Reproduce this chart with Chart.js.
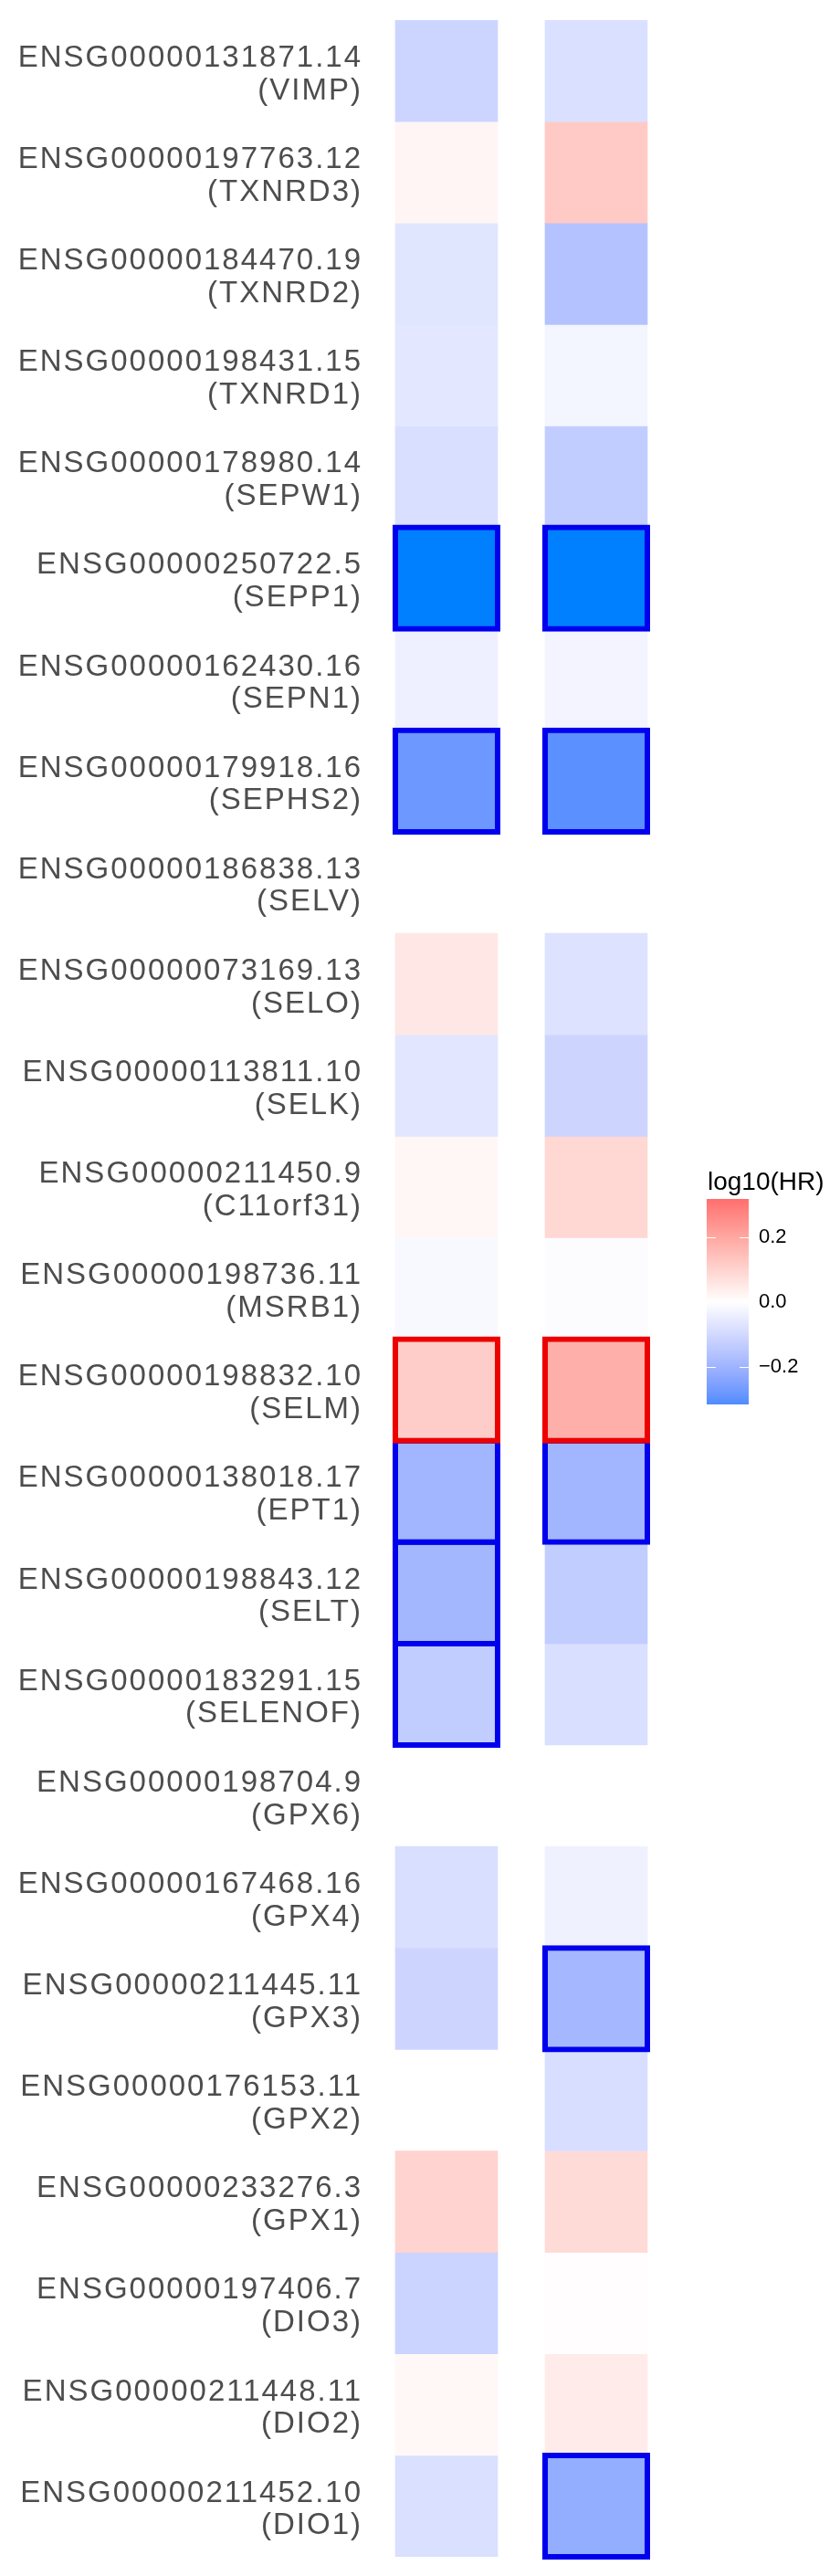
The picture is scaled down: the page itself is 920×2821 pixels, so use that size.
<!DOCTYPE html>
<html>
<head>
<meta charset="utf-8">
<script src="https://cdn.jsdelivr.net/npm/chart.js@4.4.0/dist/chart.umd.min.js"></script>
<style>
  html, body { margin: 0; padding: 0; background: #ffffff; }
  canvas { display: block; }
</style>
</head>
<body>
<canvas id="heatmap" width="920" height="2821"></canvas>
<script>
// ---------------- data (rows listed top to bottom as in the picture) ----------------
const geneIds = [
  'ENSG00000131871.14', 'ENSG00000197763.12', 'ENSG00000184470.19', 'ENSG00000198431.15',
  'ENSG00000178980.14', 'ENSG00000250722.5',  'ENSG00000162430.16', 'ENSG00000179918.16',
  'ENSG00000186838.13', 'ENSG00000073169.13', 'ENSG00000113811.10', 'ENSG00000211450.9',
  'ENSG00000198736.11', 'ENSG00000198832.10', 'ENSG00000138018.17', 'ENSG00000198843.12',
  'ENSG00000183291.15', 'ENSG00000198704.9',  'ENSG00000167468.16', 'ENSG00000211445.11',
  'ENSG00000176153.11', 'ENSG00000233276.3',  'ENSG00000197406.7',  'ENSG00000211448.11',
  'ENSG00000211452.10'
];
const geneSymbols = [
  'VIMP', 'TXNRD3', 'TXNRD2', 'TXNRD1', 'SEPW1', 'SEPP1', 'SEPN1', 'SEPHS2', 'SELV', 'SELO',
  'SELK', 'C11orf31', 'MSRB1', 'SELM', 'EPT1', 'SELT', 'SELENOF', 'GPX6', 'GPX4', 'GPX3',
  'GPX2', 'GPX1', 'DIO3', 'DIO2', 'DIO1'
];
const columnNames = ['column 1', 'column 2'];
// log10(HR) per gene, first and second column (null = no tile)
const log10HR_col1 = [
  -0.111, 0.022, -0.066, -0.062, -0.084, -0.36, -0.039, -0.281, null, 0.055,
  -0.064, 0.019, -0.016, 0.114, -0.196, -0.193, -0.135, null, -0.084, -0.110,
  null, 0.101, -0.113, 0.016, -0.081
];
const log10HR_col2 = [
  -0.081, 0.121, -0.160, -0.026, -0.132, -0.36, -0.028, -0.303, null, -0.076,
  -0.109, 0.092, -0.007, 0.182, -0.194, -0.135, -0.084, null, -0.037, -0.188,
  -0.086, 0.082, 0.004, 0.044, -0.220
];
// outlined (significant) tiles
const significant_col1 = [
  false, false, false, false, false, true, false, true, false, false,
  false, false, false, true, true, true, true, false, false, false,
  false, false, false, false, false
];
const significant_col2 = [
  false, false, false, false, false, true, false, true, false, false,
  false, false, false, true, true, false, false, false, false, true,
  false, false, false, false, true
];
// colour legend
const legendTitle = 'log10(HR)';
const legendRange = [-0.317, 0.32];
const legendTicks = [0.2, 0.0, -0.2];
const legendTickLabels = ['0.2', '0.0', '\u22120.2'];

// ---------------- colour scale (diverging, interpolated in CIELAB) ----------------
const colourLow = '#007FFF', colourMid = '#FFFFFF', colourHigh = '#FB5B5F';
const colourLimit = 0.356;

function hexToRgb(h) { const n = parseInt(h.slice(1), 16); return [(n >> 16) & 255, (n >> 8) & 255, n & 255]; }
function toLin(c) { c /= 255; return c <= 0.04045 ? c / 12.92 : Math.pow((c + 0.055) / 1.055, 2.4); }
function toSrgb(c) {
  const v = c <= 0.0031308 ? 12.92 * c : 1.055 * Math.pow(Math.max(c, 0), 1 / 2.4) - 0.055;
  return Math.round(Math.max(0, Math.min(1, v)) * 255);
}
function rgbToLab(rgb) {
  const R = toLin(rgb[0]), G = toLin(rgb[1]), B = toLin(rgb[2]);
  const X = (0.4124 * R + 0.3576 * G + 0.1805 * B) / 0.95047;
  const Y = (0.2126 * R + 0.7152 * G + 0.0722 * B);
  const Z = (0.0193 * R + 0.1192 * G + 0.9505 * B) / 1.08883;
  const f = t => t > 0.008856 ? Math.cbrt(t) : 7.787 * t + 16 / 116;
  return [116 * f(Y) - 16, 500 * (f(X) - f(Y)), 200 * (f(Y) - f(Z))];
}
function labToRgb(lab) {
  const fy = (lab[0] + 16) / 116, fx = fy + lab[1] / 500, fz = fy - lab[2] / 200;
  const finv = t => (t * t * t > 0.008856) ? t * t * t : (t - 16 / 116) / 7.787;
  const X = 0.95047 * finv(fx), Y = finv(fy), Z = 1.08883 * finv(fz);
  const R = 3.2406 * X - 1.5372 * Y - 0.4986 * Z;
  const G = -0.9689 * X + 1.8758 * Y + 0.0415 * Z;
  const B = 0.0557 * X - 0.2040 * Y + 1.0570 * Z;
  return [toSrgb(R), toSrgb(G), toSrgb(B)];
}
const labLow = rgbToLab(hexToRgb(colourLow));
const labMid = rgbToLab(hexToRgb(colourMid));
const labHigh = rgbToLab(hexToRgb(colourHigh));
function valueColour(v) {
  const t = Math.max(-1, Math.min(1, v / colourLimit));
  const end = t < 0 ? labLow : labHigh;
  const s = Math.abs(t);
  const lab = labMid.map((m, i) => m + (end[i] - m) * s);
  const c = labToRgb(lab);
  return 'rgb(' + c[0] + ',' + c[1] + ',' + c[2] + ')';
}

// ---------------- chart ----------------
// rows are fed bottom-up so tiles are painted from the bottom row upwards
const rowOrder = geneIds.map((_, i) => geneIds.length - 1 - i);
const yLabels = rowOrder.map(i => [geneIds[i], '(' + geneSymbols[i] + ')']);
const TILE_WIDTH = 0.683;      // tile width in x-scale units
const OUTLINE_WIDTH = 0.7195;  // outline box (centred on the tile edge)

function fillDataset(values, c) {
  const x = c + 1;
  return {
    label: columnNames[c],
    data: rowOrder.map(i => values[i] === null ? null : [x - TILE_WIDTH / 2, x + TILE_WIDTH / 2]),
    backgroundColor: rowOrder.map(i => values[i] === null ? 'rgba(0,0,0,0)' : valueColour(values[i])),
    borderWidth: 0,
    grouped: false,
    barPercentage: 1,
    categoryPercentage: 1,
    order: 2
  };
}
function outlineDataset(values, sig, c) {
  const x = c + 1;
  return {
    label: columnNames[c] + ' significant',
    data: rowOrder.map(i => sig[i] ? [x - OUTLINE_WIDTH / 2, x + OUTLINE_WIDTH / 2] : null),
    backgroundColor: 'rgba(0,0,0,0)',
    borderColor: rowOrder.map(i => (values[i] !== null && values[i] > 0) ? '#EE0000' : '#0000EE'),
    borderWidth: 6,
    borderSkipped: false,
    grouped: false,
    barPercentage: 1.054,
    categoryPercentage: 1,
    clip: false,
    order: 1
  };
}

const letterSpacingPlugin = {
  id: 'labelLetterSpacing',
  beforeDraw(chart) { chart.ctx.letterSpacing = '2px'; },
  afterDatasetsDraw(chart) { chart.ctx.letterSpacing = '0px'; }
};

const colourbarPlugin = {
  id: 'colourbar',
  afterDraw(chart) {
    const ctx = chart.ctx, a = chart.chartArea;
    ctx.save();
    ctx.letterSpacing = '0px';
    const cy = Math.round((a.top + a.bottom) / 2);
    const x0 = a.right + 39, w = 46, top = cy - 98, bottom = cy + 127;
    const lo = legendRange[0], hi = legendRange[1];
    const yOf = v => bottom - (v - lo) / (hi - lo) * (bottom - top);
    for (let y = top; y < bottom; y++) {
      const v = hi - (y + 0.5 - top) / (bottom - top) * (hi - lo);
      ctx.fillStyle = valueColour(v);
      ctx.fillRect(x0, y, w, 1);
    }
    ctx.strokeStyle = '#ffffff';
    ctx.lineWidth = 1.2;
    legendTicks.forEach(v => {
      const y = Math.round(yOf(v)) + 0.5;
      ctx.beginPath();
      ctx.moveTo(x0, y); ctx.lineTo(x0 + 10, y);
      ctx.moveTo(x0 + w - 10, y); ctx.lineTo(x0 + w, y);
      ctx.stroke();
    });
    ctx.fillStyle = '#000000';
    ctx.font = '22px "Liberation Sans", Helvetica, Arial, sans-serif';
    ctx.textAlign = 'left';
    ctx.textBaseline = 'middle';
    legendTicks.forEach((v, k) => ctx.fillText(legendTickLabels[k], x0 + w + 11, yOf(v)));
    ctx.font = '28px "Liberation Sans", Helvetica, Arial, sans-serif';
    ctx.textBaseline = 'alphabetic';
    ctx.fillText(legendTitle, x0 + 1, top - 10.3);
    ctx.restore();
  }
};

new Chart(document.getElementById('heatmap'), {
  type: 'bar',
  data: {
    labels: yLabels,
    datasets: [
      fillDataset(log10HR_col1, 0),
      fillDataset(log10HR_col2, 1),
      outlineDataset(log10HR_col1, significant_col1, 0),
      outlineDataset(log10HR_col2, significant_col2, 1)
    ]
  },
  options: {
    indexAxis: 'y',
    responsive: false,
    devicePixelRatio: 1,
    animation: false,
    events: [],
    layout: { padding: { left: 0, right: 185, top: 22, bottom: 21 } },
    plugins: { legend: { display: false }, tooltip: { enabled: false }, title: { display: false } },
    scales: {
      x: { type: 'linear', min: 0.5, max: 2.5, display: false },
      y: {
        type: 'category',
        reverse: true,
        offset: true,
        grid: { display: false },
        border: { display: false },
        afterFit(scale) {
          scale.width = 407;
          scale.paddingTop = 0;
          scale.paddingBottom = 0;
        },
        ticks: {
          autoSkip: false,
          color: '#4D4D4D',
          padding: 2,
          labelOffset: 4,
          font: { family: '"Liberation Sans", Helvetica, Arial, sans-serif', size: 33, lineHeight: 1.082 }
        }
      }
    }
  },
  plugins: [letterSpacingPlugin, colourbarPlugin]
});
</script>
</body>
</html>
